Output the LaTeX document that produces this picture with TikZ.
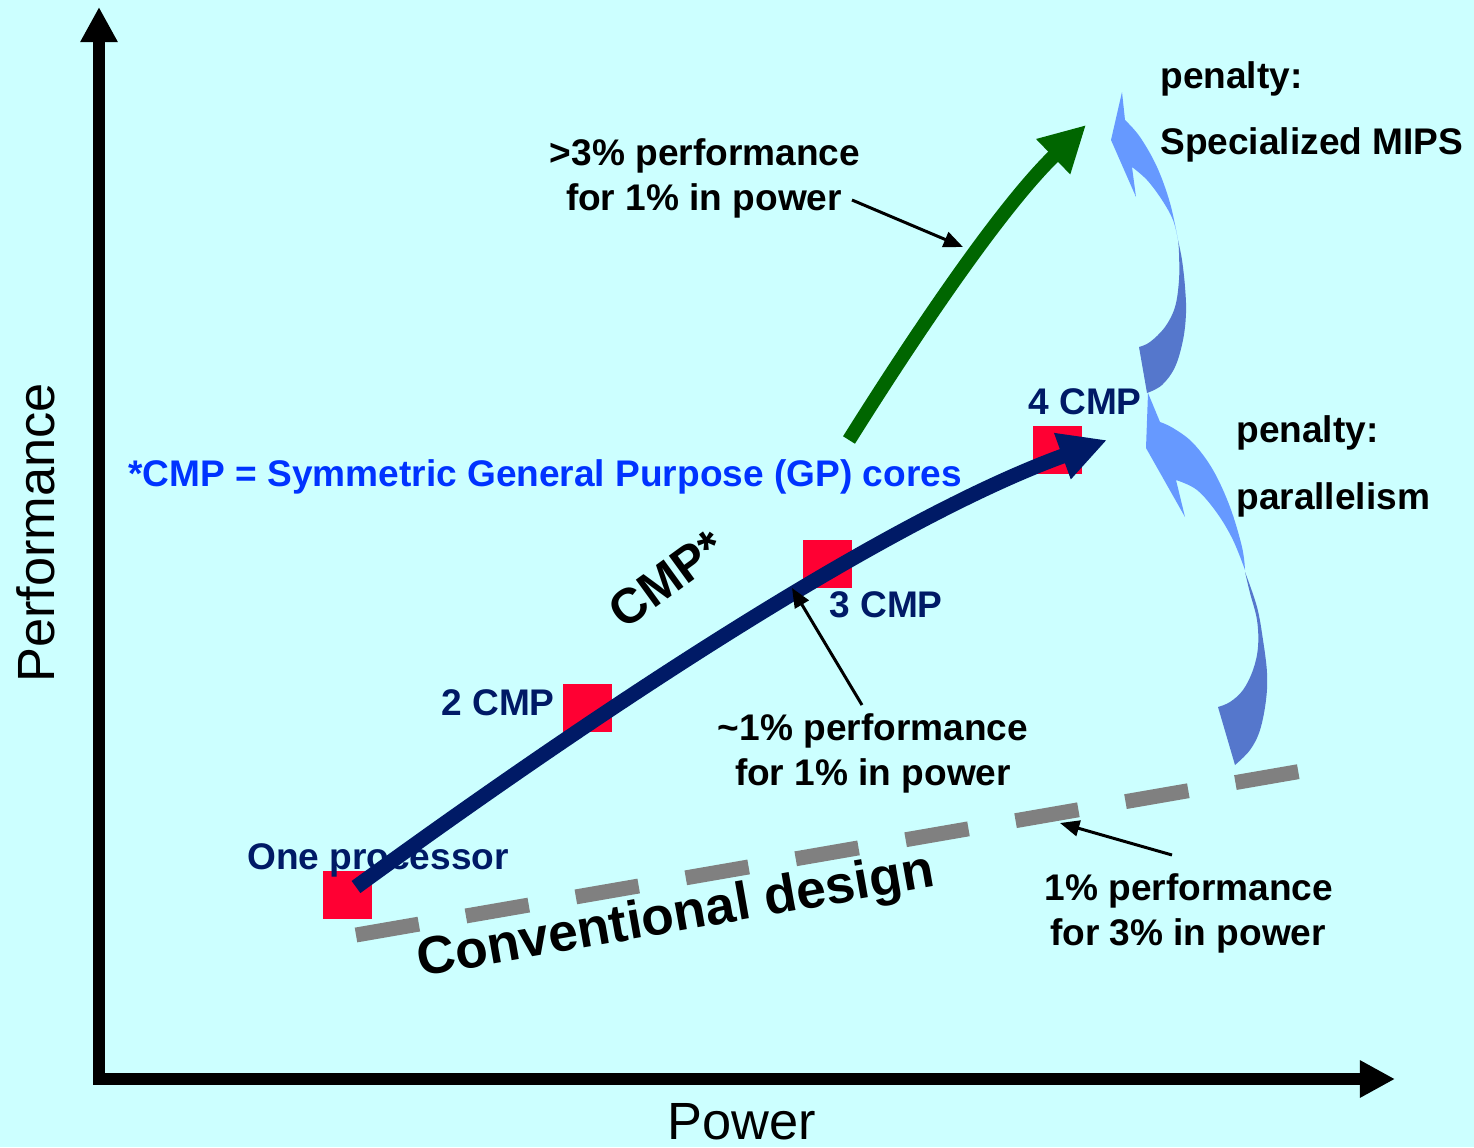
\documentclass[tikz,border=0pt]{standalone}
\usepackage{fontspec}
\setmainfont{Liberation Sans}
\usetikzlibrary{arrows.meta}
\definecolor{bgc}{HTML}{CCFFFF}
\definecolor{navy}{HTML}{001A66}
\definecolor{cmpblue}{HTML}{0033FF}
\definecolor{sqred}{HTML}{FF0033}
\definecolor{grn}{HTML}{006600}
\definecolor{dashgray}{HTML}{808080}
\definecolor{lightarr}{HTML}{6699FF}
\definecolor{darkarr}{HTML}{5577CC}
\begin{document}
\begin{tikzpicture}[x=0.02cm,y=-0.02cm,
  txt/.style={font=\fontsize{21.1pt}{25pt}\selectfont\bfseries, inner sep=0pt, anchor=base},
  txtw/.style={txt, anchor=base west},
  navytxt/.style={txt, text=navy},
  axislbl/.style={font=\fontsize{29.8pt}{34pt}\selectfont, inner sep=0pt, anchor=base},
  axisline/.style={line width=6.8pt, line join=miter, {Triangle[length=20pt,width=20pt]}-{Triangle[length=20pt,width=20pt]}},
  sqbox/.style={fill=sqred, minimum width=49*0.02cm, minimum height=48*0.02cm, inner sep=0pt, draw=none},
  ptr/.style={line width=1.7pt, -{Triangle[length=11pt,width=9pt]}},
]
\fill[bgc] (0,0) rectangle (1474,1147);
\useasboundingbox (0,0) rectangle (1474,1147);

% axes
\coordinate (ytop) at (99,7);
\coordinate (orig) at (99,1079);
\coordinate (xend) at (1395,1079);
\draw[axisline] (ytop) -- (orig) -- (xend);
\node[axislbl, rotate=90] (ylab) at (54,533) {Performance};
\node[axislbl] (xlab) at (742,1139) {Power};

% conventional design dashed line
\coordinate (convS) at (356,935);
\coordinate (convE) at (1302,771);
\draw[dashgray, line width=8.5pt, dash pattern=on 36.3pt off 27.2pt] (convS) -- (convE);
\node[font=\fontsize{30.3pt}{35pt}\selectfont\bfseries, rotate=10, inner sep=0pt] (convlbl) at (676,918) {Conventional design};

% red squares
\node[sqbox] (sq1) at (347,895) {};
\node[sqbox] (sq2) at (587,708) {};
\node[sqbox] (sq3) at (827,564) {};
\node[sqbox] (sq4) at (1057,450) {};

% labels
\node[navytxt] (l1) at (378,869) {One processor};
\node[navytxt] (l2) at (498,715) {2 CMP};
\node[navytxt] (l3) at (886,617) {3 CMP};
\node[navytxt] (l4) at (1085,414) {4 CMP};
\node[txtw, text=cmpblue] (def) at (128,486) {*CMP = Symmetric General Purpose (GP) cores};
\node[font=\fontsize{28pt}{33pt}\selectfont\bfseries, rotate=36, inner sep=0pt] (cmplbl) at (667,579) {CMP*};

% navy CMP arrow
\coordinate (navyS) at (356,887);
\coordinate (navyE) at (1107,440);
\draw[navy, line width=8.5pt, -{Triangle[length=27pt,width=26pt]}] (navyS) .. controls (558,740) and (872,525) .. (navyE);

% green arrow
\coordinate (grnS) at (849,440);
\coordinate (grnE) at (1086,125);
\draw[grn, line width=8pt, -{Triangle[length=26pt,width=26pt]}] (grnS) .. controls (913,338) and (1000,208) .. (grnE);

% blue curved arrows (lower)
\fill[lightarr] (1148,393) -- (1160,422)
  -- plot[smooth, tension=0.6] coordinates {(1160,422) (1173,428) (1193,443) (1213,470) (1230,507) (1242,547) (1245,570)}
  -- plot[smooth, tension=0.6] coordinates {(1245,570) (1233,540) (1217,513) (1197,490) (1176,480)}
  -- (1185,517) -- (1146,448) -- cycle;
\fill[darkarr] (1245,572)
  -- plot[smooth, tension=0.6] coordinates {(1245,572) (1257,607) (1263,640) (1267,673) (1266,700) (1260,730) (1250,750) (1235,765)}
  -- (1218,707)
  -- plot[smooth, tension=0.6] coordinates {(1218,707) (1230,702) (1243,690) (1253,670) (1258,647) (1257,620) (1250,593) (1245,572)}
  -- cycle;
% blue curved arrows (upper)
\fill[lightarr] (1122,92) -- (1125,120)
  -- plot[smooth, tension=0.6] coordinates {(1125,120) (1140,137) (1157,167) (1170,203) (1178,240)}
  -- plot[smooth, tension=0.6] coordinates {(1178,240) (1173,220) (1162,200) (1147,180) (1132,167)}
  -- (1136,197) -- (1111,140) -- cycle;
\fill[darkarr] (1178,240)
  -- plot[smooth, tension=0.6] coordinates {(1178,240) (1182,260) (1185,287) (1186,313) (1183,340) (1175,367) (1162,385) (1147,393)}
  -- (1139,347)
  -- plot[smooth, tension=0.6] coordinates {(1139,347) (1150,342) (1165,327) (1175,307) (1179,280) (1179,253) (1178,240)}
  -- cycle;

% penalty labels
\node[txtw] (pen1) at (1160,88) {penalty:};
\node[txtw] (spec) at (1160,154) {Specialized MIPS};
\node[txtw] (pen2) at (1236,442) {penalty:};
\node[txtw] (par) at (1236,509) {parallelism};

% annotation texts
\node[txt] (g1) at (705,165) {>3\% performance};
\node[txt] (g2) at (704,210) {for 1\% in power};
\node[txt] (n1) at (873,740) {\textasciitilde1\% performance};
\node[txt] (n2) at (873,785) {for 1\% in power};
\node[txt] (c1) at (1189,900) {1\% performance};
\node[txt] (c2) at (1188,945) {for 3\% in power};

% pointers
\coordinate (p1s) at (852,200);
\coordinate (p1e) at (963,247);
\draw[ptr] (p1s) -- (p1e);
\coordinate (p2s) at (862,705);
\coordinate (p2e) at (792,588);
\draw[ptr] (p2s) -- (p2e);
\coordinate (p3s) at (1172,855);
\coordinate (p3e) at (1060,823);
\draw[ptr] (p3s) -- (p3e);
\end{tikzpicture}
\end{document}
